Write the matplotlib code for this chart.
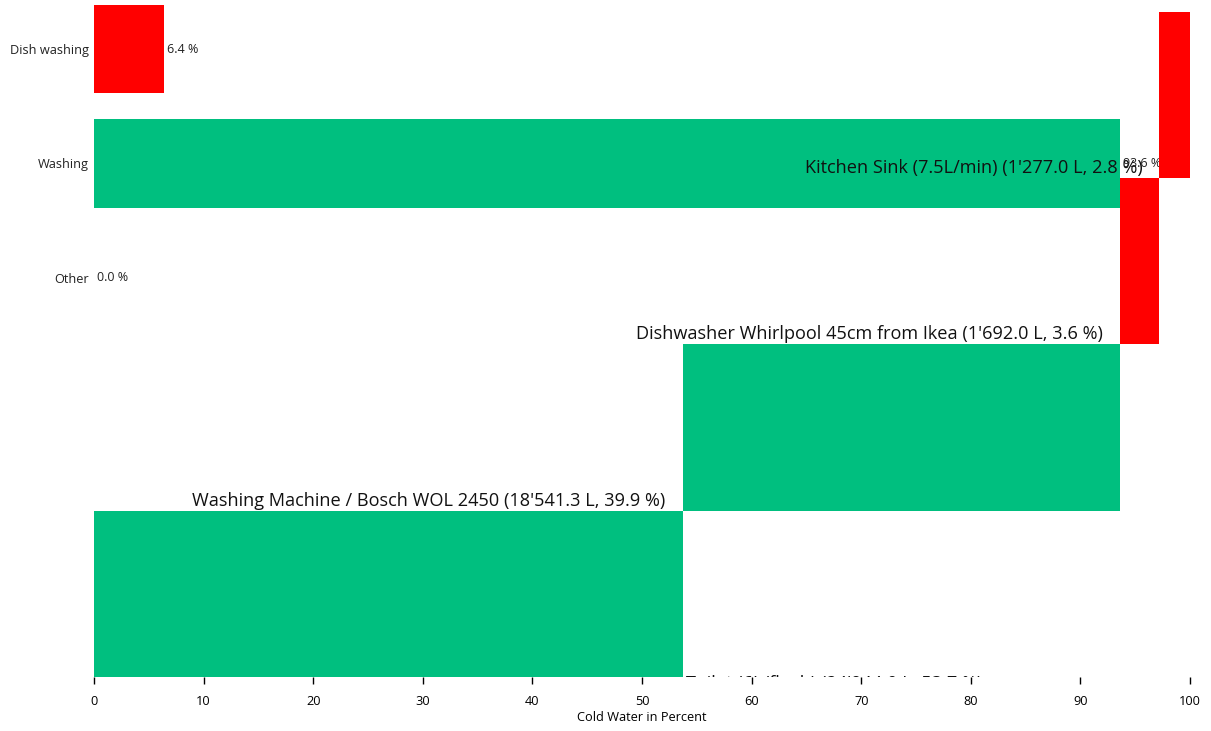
import numpy as np
import matplotlib
matplotlib.use("Agg")
import matplotlib.pyplot as plt

plt.rcParams['font.family'] = ['Open Sans', 'DejaVu Sans']

# groups (upper bars)
groups = ["Dish washing", "Washing", "Other"]
group_pct = [6.4, 93.6, 0.0]
group_colors = ["#ff0000", "#00bf7f", "#00bf7f"]

# devices, top to bottom
devices = ["Kitchen Sink (7.5L/min)", "Dishwasher Whirlpool 45cm from Ikea",
           "Washing Machine / Bosch WOL 2450", "Toilet (6L/flush)"]
device_litres = [1277.0, 1692.0, 18541.3, 24944.0]
device_pct = [2.8, 3.6, 39.9, 53.7]
device_colors = ["#ff0000", "#ff0000", "#00bf7f", "#00bf7f"]

xticks = list(range(0, 101, 10))

# stacked from the bottom bar upwards
rev = np.array(device_pct[::-1])
starts = (np.cumsum(rev) - rev)[::-1]

fig = plt.figure(figsize=(12.11, 7.31), dpi=100)
ax = fig.add_axes([94/1211, (731-677)/731, 1096/1211, 677/731])

ax.barh(range(len(groups)), group_pct, height=0.77, color=group_colors)
for i, v in enumerate(group_pct):
    ax.annotate(f"{v:.1f} %", (v, i), xytext=(3, 0), textcoords='offset pixels',
                va='center', ha='left', fontsize=9, color='#222222')
ax.set_xlim(0, 100)
ax.set_ylim(5.485, -0.428)
ax.set_yticks(range(len(groups)), groups, fontsize=9.2, color='#222222')
ax.tick_params(axis='y', length=0, pad=3.6)
ax.set_xticks(xticks, [str(t) for t in xticks], fontsize=9.2)
ax.tick_params(axis='x', length=5, width=1, pad=8)
ax.set_xlabel("Cold Water in Percent", fontsize=9.2, labelpad=2)
for s in ax.spines.values():
    s.set_visible(False)

ax2 = ax.twinx()
ax2.barh(range(len(devices)), device_pct, left=starts, height=1.0, color=device_colors)
ax2.set_ylim(3.5, -0.572)
ax2.set_yticks([])
for s in ax2.spines.values():
    s.set_visible(False)

for i, name in enumerate(devices):
    litres = f"{device_litres[i]:,.1f}".replace(",", "'")
    label = f"{name} ({litres} L, {device_pct[i]:.1f} %)"
    if starts[i] > 0:
        ax2.annotate(label, (starts[i], i + 0.5), xytext=(-17, 10),
                     textcoords='offset pixels', ha='right', va='center',
                     fontsize=13.1, color='#111111')
    else:
        ax2.annotate(label, (starts[i] + device_pct[i], i + 0.5), xytext=(3, 2),
                     textcoords='offset pixels', ha='left', va='top',
                     fontsize=13.1, color='#111111', clip_on=True)

fig.savefig("out.png", dpi=100)
